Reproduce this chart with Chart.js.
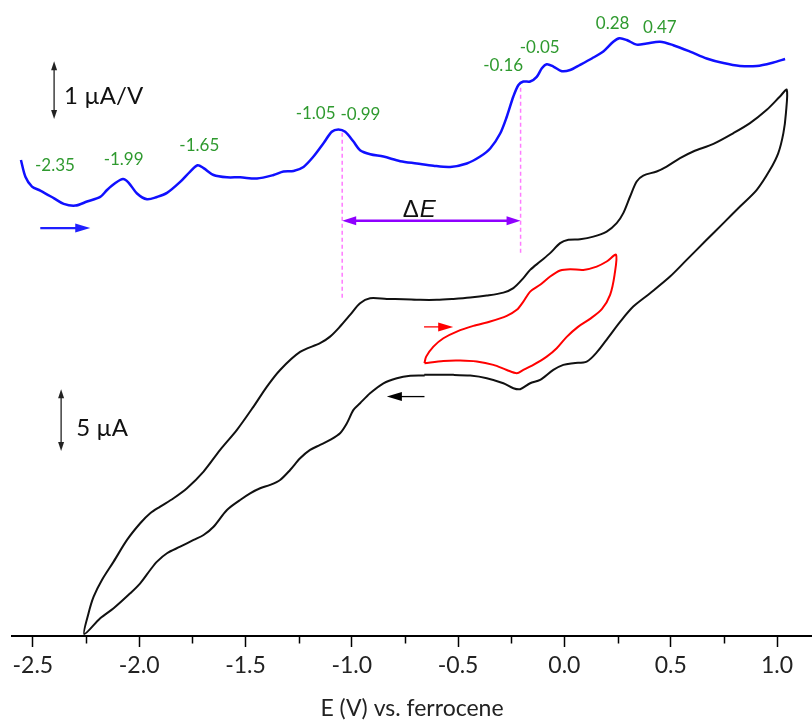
<!DOCTYPE html>
<html><head><meta charset="utf-8">
<script src="https://cdn.jsdelivr.net/npm/chart.js@4/dist/chart.umd.min.js"></script>
<style>html,body{margin:0;padding:0;background:#fff}#wrap{width:812px;height:722px}</style>
</head><body><div id="wrap"><canvas id="c" width="812" height="722"></canvas></div>
<script>
// ---- Black CV (µA, arbitrary offset), scan starts at -0.66 V going negative
const cvE = [-0.657,-0.725,-0.788,-0.851,-0.914,-0.961,-0.992,-1.023,-1.055,-1.102,-1.149,-1.196,-1.243,-1.290,-1.337,-1.384,-1.431,-1.478,-1.525,-1.587,-1.650,-1.697,-1.744,-1.807,-1.869,-1.916,-1.948,-1.995,-2.042,-2.120,-2.183,-2.258,
  -2.238,-2.214,-2.175,-2.120,-2.057,-1.995,-1.948,-1.901,-1.838,-1.775,-1.697,-1.619,-1.540,-1.462,-1.399,-1.337,-1.243,-1.149,-1.102,-1.055,-1.008,-0.961,-0.914,-0.835,-0.757,-0.678,-0.600,-0.522,-0.443,-0.365,-0.287,-0.240,-0.193,-0.161,-0.114,-0.067,-0.020,0.019,0.074,0.136,0.199,0.246,0.277,0.309,0.340,0.371,0.434,0.481,0.544,0.606,0.701,0.795,0.873,0.952,1.014,1.046,
  1.042,1.030,1.006,0.967,0.905,0.826,0.748,0.669,0.575,0.497,0.403,0.324,0.262,0.205,0.154,0.105,0.042,-0.005,-0.052,-0.114,-0.161,-0.208,-0.240,-0.287,-0.365,-0.443,-0.522,-0.600,-0.659];
const cvI = [21.11,21.09,20.90,20.49,19.68,18.87,18.33,17.25,16.44,15.90,15.49,15.09,14.41,13.46,12.65,12.25,11.98,11.57,11.03,10.22,8.86,8.19,7.79,7.24,6.71,6.03,5.35,4.27,3.46,2.25,1.44,0.16,
  1.84,3.19,4.54,6.03,7.79,9.14,9.95,10.49,11.17,11.98,13.33,15.09,16.71,18.60,20.22,21.57,23.03,23.74,24.27,25.09,26.03,26.98,27.39,27.33,27.31,27.25,27.25,27.33,27.44,27.60,27.84,28.20,29.01,29.68,30.36,31.04,31.85,32.12,32.17,32.38,32.79,33.47,34.28,35.63,36.85,37.33,37.66,38.06,38.74,39.28,39.90,40.77,41.58,42.66,43.74,44.28,
  42.39,40.77,39.15,37.79,36.17,34.82,33.47,32.12,30.49,29.14,27.79,26.71,25.47,24.17,23.03,22.25,22.12,21.98,21.57,20.76,20.49,20.01,20.09,20.49,20.90,21.11,21.17,21.17,21.17];

// ---- Red CV (small window)
const redE = [-0.658,-0.650,-0.616,-0.569,-0.506,-0.428,-0.349,-0.271,-0.224,-0.193,-0.161,-0.114,-0.067,-0.020,0.027,0.089,0.152,0.199,0.243,
  0.236,0.215,0.177,0.121,0.064,0.011,-0.036,-0.083,-0.146,-0.193,-0.224,-0.271,-0.334,-0.412,-0.490,-0.569,-0.658];
const redI = [22.12,22.65,23.46,24.14,24.68,25.14,25.49,25.95,26.44,27.11,27.92,28.47,29.14,29.63,29.74,29.68,29.95,30.36,30.90,
  29.28,27.66,26.52,25.71,25.06,24.25,23.33,22.65,21.98,21.57,21.31,21.57,21.98,22.25,22.33,22.30,22.12];

// ---- Blue derivative curve (µA/V, arbitrary offset)
const dE = [-2.556,-2.535,-2.504,-2.465,-2.402,-2.355,-2.300,-2.245,-2.183,-2.151,-2.112,-2.076,-2.050,-2.010,-1.963,-1.916,-1.869,-1.807,-1.760,-1.725,-1.697,-1.650,-1.587,-1.525,-1.446,-1.368,-1.321,-1.274,-1.227,-1.180,-1.133,-1.094,-1.063,-1.031,-0.992,-0.961,-0.913,-0.851,-0.772,-0.694,-0.616,-0.537,-0.459,-0.396,-0.349,-0.302,-0.271,-0.240,-0.216,-0.193,-0.161,-0.130,-0.106,-0.083,-0.052,-0.012,0.027,0.074,0.129,0.183,0.230,0.259,0.293,0.340,0.387,0.450,0.512,0.591,0.669,0.748,0.826,0.905,0.983,1.038];
const dI = [8.25,7.96,7.79,7.72,7.59,7.49,7.46,7.53,7.61,7.73,7.85,7.92,7.86,7.67,7.57,7.61,7.68,7.87,8.05,8.16,8.11,7.99,7.95,7.95,7.93,7.99,8.05,8.06,8.13,8.31,8.54,8.74,8.78,8.74,8.57,8.42,8.35,8.31,8.23,8.19,8.15,8.13,8.19,8.31,8.45,8.71,9.00,9.35,9.55,9.61,9.61,9.69,9.84,9.91,9.87,9.79,9.81,9.90,10.01,10.13,10.30,10.36,10.33,10.25,10.27,10.30,10.24,10.13,10.01,9.93,9.88,9.88,9.94,10.00];

// ---- Peak labels (text, position in E and µA/V)
const peakText = ['-2.35','-1.99','-1.65','-1.05','-0.99','-0.16','-0.05','0.28','0.47'];
const peakX = [-2.396,-2.073,-1.717,-1.170,-0.959,-0.288,-0.116,0.227,0.449];
const peakY = [8.15,8.26,8.50,9.06,9.04,9.88,10.20,10.62,10.55];

// ---- Axis ticks
const xTickValues = [-2.5,-2.25,-2.0,-1.75,-1.5,-1.25,-1.0,-0.75,-0.5,-0.25,0.0,0.25,0.5,0.75,1.0];
const xTickLabels = ['-2.5','','-2.0','','-1.5','','-1.0','','-0.5','','0.0','','0.5','','1.0'];
const xTitle = 'E (V) vs. ferrocene';

const FONT = 'Lato, "Open Sans", sans-serif';
const pts = (xs, ys) => xs.map((x, i) => ({x, y: ys[i]}));

function arrow(ctx, x1, y1, x2, y2, hl, hw, color, lw, both) {
  ctx.save();
  ctx.strokeStyle = color; ctx.fillStyle = color; ctx.lineWidth = lw;
  const a = Math.atan2(y2 - y1, x2 - x1);
  const head = (x, y, ang) => {
    ctx.beginPath();
    ctx.moveTo(x, y);
    ctx.lineTo(x - hl * Math.cos(ang) + hw * Math.sin(ang), y - hl * Math.sin(ang) - hw * Math.cos(ang));
    ctx.lineTo(x - hl * Math.cos(ang) - hw * Math.sin(ang), y - hl * Math.sin(ang) + hw * Math.cos(ang));
    ctx.closePath(); ctx.fill();
  };
  const sx = both ? x1 + hl * 0.8 * Math.cos(a) : x1, sy = both ? y1 + hl * 0.8 * Math.sin(a) : y1;
  ctx.beginPath();
  ctx.moveTo(sx, sy);
  ctx.lineTo(x2 - hl * 0.8 * Math.cos(a), y2 - hl * 0.8 * Math.sin(a));
  ctx.stroke();
  head(x2, y2, a);
  if (both) head(x1, y1, a + Math.PI);
  ctx.restore();
}

const annot = {
  id: 'annot',
  afterDraw(chart) {
    const ctx = chart.ctx, X = chart.scales.x, Y = chart.scales.y, Y2 = chart.scales.y2;
    const ca = chart.chartArea;
    // minor ticks
    ctx.save();
    ctx.strokeStyle = '#000'; ctx.lineWidth = 1.5;
    xTickValues.forEach((v, i) => {
      if (xTickLabels[i] === '') {
        const px = Math.round(X.getPixelForValue(v)) + 0.5;
        ctx.beginPath(); ctx.moveTo(px, ca.bottom); ctx.lineTo(px, ca.bottom + 7.5); ctx.stroke();
      }
    });
    ctx.restore();

    // dashed guide lines
    ctx.save();
    ctx.strokeStyle = '#ff7bff'; ctx.lineWidth = 1.5; ctx.setLineDash([4, 3]);
    [[-1.045, 40.79, 27.41], [-0.206, 44.44, 30.90]].forEach(([e, a, b]) => {
      const px = X.getPixelForValue(e);
      ctx.beginPath(); ctx.moveTo(px, Y.getPixelForValue(a)); ctx.lineTo(px, Y.getPixelForValue(b)); ctx.stroke();
    });
    ctx.restore();

    // ΔE arrow
    arrow(ctx, X.getPixelForValue(-1.045), Y.getPixelForValue(33.66), X.getPixelForValue(-0.206), Y.getPixelForValue(33.66), 14, 4.5, '#8f00ff', 2.5, true);
    ctx.save();
    ctx.fillStyle = '#111'; ctx.textBaseline = 'alphabetic';
    const dx = X.getPixelForValue(-0.683), dy = Y.getPixelForValue(33.98);
    const DF = '"Liberation Sans", Arial, sans-serif';
    ctx.font = '24px ' + DF;
    const wD = ctx.measureText('Δ').width + 1;
    ctx.font = 'italic 24px ' + DF;
    const wE = ctx.measureText('E').width;
    const sx = dx - (wD + wE) / 2;
    ctx.font = '24px ' + DF; ctx.fillText('Δ', sx, dy);
    ctx.font = 'italic 24px ' + DF; ctx.fillText('E', sx + wD, dy);
    ctx.restore();

    // scale bars
    const sb1x = X.getPixelForValue(-2.400);
    arrow(ctx, sb1x, Y2.getPixelForValue(9.96), sb1x, Y2.getPixelForValue(8.96), 9, 3, '#222', 1.3, true);
    const sb2x = X.getPixelForValue(-2.367);
    arrow(ctx, sb2x, Y.getPixelForValue(20.0), sb2x, Y.getPixelForValue(15.0), 9, 3, '#222', 1.3, true);
    ctx.save();
    ctx.fillStyle = '#111'; ctx.textBaseline = 'middle'; ctx.textAlign = 'left';
    ctx.font = '24px ' + FONT;
    ctx.fillText('1 µA/V', X.getPixelForValue(-2.353), Y2.getPixelForValue(9.35));
    ctx.fillText('5 µA', X.getPixelForValue(-2.296), Y.getPixelForValue(16.87));
    ctx.restore();

    // scan direction arrows
    arrow(ctx, X.getPixelForValue(-2.465), Y.getPixelForValue(33.07), X.getPixelForValue(-2.230), Y.getPixelForValue(33.07), 15, 4.5, '#1f1fff', 2.2, false);
    arrow(ctx, X.getPixelForValue(-0.660), Y.getPixelForValue(25.06), X.getPixelForValue(-0.523), Y.getPixelForValue(25.06), 15, 4.5, '#ff0000', 1.3, false);
    arrow(ctx, X.getPixelForValue(-0.658), Y.getPixelForValue(19.41), X.getPixelForValue(-0.835), Y.getPixelForValue(19.41), 15, 4.5, '#000', 1.3, false);

    // peak labels
    ctx.save();
    ctx.fillStyle = '#2f9a2f'; ctx.textAlign = 'center'; ctx.textBaseline = 'middle';
    ctx.font = '17px ' + FONT;
    peakText.forEach((t, i) => ctx.fillText(t, X.getPixelForValue(peakX[i]), Y2.getPixelForValue(peakY[i])));
    ctx.restore();
  }
};

new Chart(document.getElementById('c'), {
  type: 'scatter',
  data: {
    datasets: [
      {label: 'CV wide', data: pts(cvE, cvI), showLine: true, borderColor: '#111', borderWidth: 2, pointRadius: 0, tension: 0.3, yAxisID: 'y'},
      {label: 'CV narrow', data: pts(redE, redI), showLine: true, borderColor: '#ff0000', borderWidth: 2, pointRadius: 0, tension: 0.3, yAxisID: 'y'},
      {label: 'dI/dE', data: pts(dE, dI), showLine: true, borderColor: '#1010ff', borderWidth: 2.5, pointRadius: 0, tension: 0.3, yAxisID: 'y2'}
    ]
  },
  options: {
    responsive: false, animation: false, devicePixelRatio: 1,
    layout: {padding: {left: 12, right: 0, top: 10, bottom: 0}},
    plugins: {legend: {display: false}, tooltip: {enabled: false}},
    scales: {
      x: {
        type: 'linear', min: -2.598, max: 1.1646,
        afterBuildTicks: s => { s.ticks = xTickValues.map(v => ({value: v})); },
        afterFit: s => { s.height = 86; },
        border: {display: true, color: '#000', width: 2},
        grid: {display: true, drawOnChartArea: false, drawTicks: true, tickLength: 11, tickWidth: 1.5,
          tickColor: c => (c.tick && xTickLabels[xTickValues.indexOf(c.tick.value)] !== '') ? '#000' : 'rgba(0,0,0,0)'},
        ticks: {autoSkip: false, maxRotation: 0, minRotation: 0, padding: 5, color: '#222',
          font: {family: FONT, size: 23},
          callback: (v) => { const i = xTickValues.findIndex(t => Math.abs(t - v) < 1e-6); return i >= 0 ? xTickLabels[i] : ''; }},
        title: {display: true, text: xTitle, color: '#222', font: {family: FONT, size: 23}, padding: {top: 15, bottom: 0}}
      },
      y: {display: false, min: 0, max: 50.75},
      y2: {display: false, min: 0, max: 10.85}
    }
  },
  plugins: [annot]
});
</script></body></html>
